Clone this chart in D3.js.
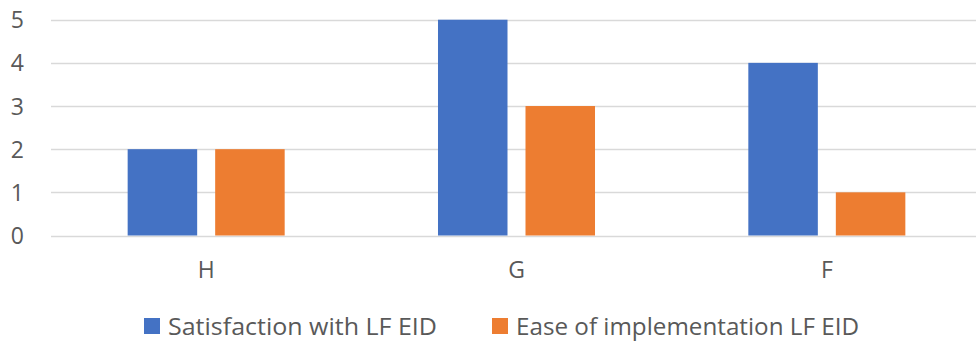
<!DOCTYPE html>
<html><head><meta charset="utf-8">
<script src="https://cdn.jsdelivr.net/npm/d3@7"></script>
<style>body{margin:0;background:#fff}svg{display:block}</style>
</head><body>
<svg id="c" width="976" height="345"></svg>
<script>
const categories = ["H", "G", "F"];
const seriesNames = ["Satisfaction with LF EID", "Ease of implementation LF EID"];
const satisfaction = [2, 5, 4];
const ease = [2, 3, 1];
const yTicks = [0, 1, 2, 3, 4, 5];
const colors = ["#4472C4", "#ED7D31"];

const svg = d3.select("#c");
const font = "'Open Sans', sans-serif";
const textColor = "#595959";

const x = d3.scaleBand().domain(categories).range([51, 982]).paddingInner(0).paddingOuter(0);
const xs = d3.scaleBand().domain(seriesNames).range([0, x.bandwidth()]).paddingInner(0.2057).paddingOuter(0.876);
const y = d3.scaleLinear().domain([0, 5]).range([235.5, 19.7]);

// gridlines
svg.append("g").selectAll("line").data(yTicks).join("line")
  .attr("x1", 51).attr("x2", 976)
  .attr("y1", d => Math.round(y(d)) + 0.5).attr("y2", d => Math.round(y(d)) + 0.5)
  .attr("stroke", "#d9d9d9").attr("stroke-width", 1.5);

// y axis labels
const yAxis = d3.axisLeft(y).tickValues(yTicks).tickSize(0).tickPadding(0).tickFormat(d3.format("d"));
const ya = svg.append("g").attr("transform", "translate(24,0)").call(yAxis);
ya.select(".domain").remove();
ya.selectAll("text").attr("font-family", font).attr("font-size", 23).attr("fill", textColor).attr("dy", "0.35em");

// x axis labels
const xAxis = d3.axisBottom(x).tickSize(0).tickPadding(0);
const xa = svg.append("g").attr("transform", "translate(0,262)").call(xAxis);
xa.select(".domain").remove();
xa.selectAll("text").attr("font-family", font).attr("font-size", 23).attr("fill", textColor).attr("dy", "0.71em");

// bars
const data = categories.map((c, i) => ({c, vals: [satisfaction[i], ease[i]]}));
const groups = svg.append("g").selectAll("g").data(data).join("g")
  .attr("transform", d => `translate(${x(d.c)},0)`);
groups.selectAll("rect").data(d => d.vals.map((v, j) => ({name: seriesNames[j], v, j}))).join("rect")
  .attr("x", d => xs(d.name)).attr("width", xs.bandwidth())
  .attr("y", d => y(d.v)).attr("height", d => y(0) - y(d.v))
  .attr("fill", d => colors[d.j]);

// legend
const legendItems = [
  {name: seriesNames[0], color: colors[0], sx: 144, tx: 168, tw: 269},
  {name: seriesNames[1], color: colors[1], sx: 492, tx: 516, tw: 343}
];
const lg = svg.append("g");
legendItems.forEach(it => {
  lg.append("rect").attr("x", it.sx).attr("y", 318).attr("width", 16).attr("height", 16).attr("fill", it.color);
  lg.append("text").attr("x", it.tx).attr("y", 335).text(it.name)
    .attr("font-family", font).attr("font-size", 24).attr("fill", textColor)
    .attr("textLength", it.tw).attr("lengthAdjust", "spacingAndGlyphs");
});
</script>
</body></html>
